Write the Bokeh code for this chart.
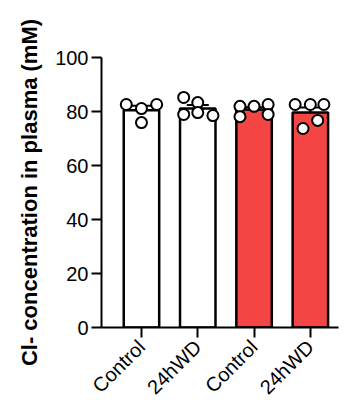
import math
from bokeh.plotting import figure
from bokeh.models import ColumnDataSource, FixedTicker, Range1d, Whisker
from bokeh.embed import file_html
from bokeh.resources import INLINE

categories = ["Control", "24hWD", "Control", "24hWD"]
bar_colors = ["#FFFFFF", "#FFFFFF", "#F44545", "#F44545"]
means = [80.5, 81.1, 80.7, 79.6]
sems = [1.6, 1.3, 0.9, 1.9]

# individual points: group index, jitter offset, value
pt_group = [0, 0, 0, 0,
            1, 1, 1, 1, 1,
            2, 2, 2, 2, 2,
            3, 3, 3, 3, 3]
pt_jitter = [-0.27, 0.0, 0.0, 0.27,
             -0.25, 0.0, -0.25, 0.0, 0.27,
             -0.25, 0.0, 0.25, -0.25, 0.25,
             -0.27, 0.0, 0.24, -0.13, 0.13]
pt_values = [82.6, 81.1, 75.9, 82.6,
             85.2, 83.3, 78.9, 79.6, 78.5,
             81.9, 81.9, 82.6, 78.1, 78.9,
             82.6, 82.6, 82.6, 73.7, 76.7]

y_ticks = [0, 20, 40, 60, 80, 100]

xs = list(range(len(categories)))
bar_src = ColumnDataSource(dict(x=xs, top=means, color=bar_colors,
                                upper=[m + s for m, s in zip(means, sems)],
                                lower=[m - s for m, s in zip(means, sems)]))
pt_src = ColumnDataSource(dict(x=[g + j for g, j in zip(pt_group, pt_jitter)], y=pt_values))

p = figure(width=344, height=409, output_backend="svg", toolbar_location=None,
           x_range=Range1d(-0.71, 3.5), y_range=Range1d(0, 100),
           min_border_left=101, min_border_top=57, min_border_right=6, min_border_bottom=82)
p.outline_line_color = None
p.grid.visible = False
p.background_fill_color = "white"
p.border_fill_color = "white"

p.vbar(x="x", top="top", width=0.63, bottom=0, source=bar_src,
       fill_color="color", line_color="black", line_width=2.5)

w = Whisker(base="x", upper="upper", lower="lower", source=bar_src,
            line_color="black", line_width=2)
w.upper_head.size = 22
w.lower_head.size = 22
w.upper_head.line_width = 2
w.lower_head.line_width = 2
p.add_layout(w)

p.scatter(x="x", y="y", source=pt_src, size=11, fill_color="white",
          line_color="black", line_width=2)

p.yaxis.ticker = FixedTicker(ticks=y_ticks)
p.xaxis.ticker = FixedTicker(ticks=xs)
p.xaxis.major_label_overrides = {i: c for i, c in enumerate(categories)}
p.xaxis.major_label_orientation = math.pi / 4

for ax in (p.xaxis, p.yaxis):
    ax.axis_line_width = 2
    ax.axis_line_color = "black"
    ax.major_tick_line_width = 2
    ax.major_tick_line_color = "black"
    ax.major_tick_in = 0
    ax.major_tick_out = 10
    ax.minor_tick_line_color = None
    ax.major_label_text_font = "Liberation Sans"
    ax.major_label_text_color = "black"

p.yaxis.major_label_standoff = 3
p.xaxis.major_label_standoff = 6
p.yaxis.major_label_text_font_size = "20px"
p.xaxis.major_label_text_font_size = "20px"

p.yaxis.axis_label = "Cl- concentration in plasma (mM)"
p.yaxis.axis_label_text_font = "Liberation Sans"
p.yaxis.axis_label_text_font_size = "22px"
p.yaxis.axis_label_text_font_style = "bold"
p.yaxis.axis_label_text_color = "black"
p.yaxis.axis_label_standoff = 10

open("out.html", "w").write(file_html(p, INLINE))
